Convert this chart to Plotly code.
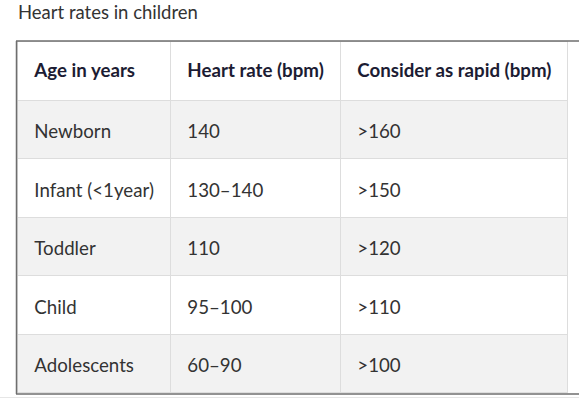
import plotly.graph_objects as go

title = "Heart rates in children"
headers = ["Age in years", "Heart rate (bpm)", "Consider as rapid (bpm)"]
ages = ["Newborn", "Infant (<1year)", "Toddler", "Child", "Adolescents"]
heart_rates = ["140", "130–140", "110", "95–100", "60–90"]
rapid = [">160", ">150", ">120", ">110", ">100"]

W, H = 579, 400
PAD = "\u2002"
# tiny invisible leading line so the (top-aligned) table text sits centred in each row
SPACER = '<span style="font-size:3px;color:rgba(0,0,0,0)">.</span>'


def fmt(vals, bold=False):
    out = []
    for v in vals:
        t = PAD + v
        if bold:
            t = "<b>" + t + "</b>"
        out.append(SPACER + '<br><span style="font-size:18.7px">' + t + "</span>")
    return out


row_fills = ["#f2f2f2" if i % 2 == 0 else "#ffffff" for i in range(len(ages))]

fig = go.Figure(go.Table(
    domain=dict(x=[17 / W, 567 / W], y=[1 - 393 / H, 1 - 41 / H]),
    columnwidth=[153, 170, 227],
    header=dict(
        values=fmt(headers, bold=True),
        fill_color="#ffffff",
        line=dict(color="#dddddd", width=1),
        font=dict(family="Lato", size=19.6, color="#1c1c33"),
        align="left",
        height=59,
    ),
    cells=dict(
        values=[fmt(ages), fmt(heart_rates), fmt(rapid)],
        fill_color=[row_fills] * 3,
        line=dict(color="#dddddd", width=1),
        font=dict(family="Lato", size=20.8, color="#333333"),
        align="left",
        height=58.5,
    ),
))

frame = "#6e6e6e"
fig.add_shape(type="line", xref="paper", yref="paper", x0=16 / W, x1=1, y0=1 - 41 / H, y1=1 - 41 / H,
              line=dict(color=frame, width=1.5))
fig.add_shape(type="line", xref="paper", yref="paper", x0=16.5 / W, x1=16.5 / W, y0=1 - 41 / H, y1=1 - 394 / H,
              line=dict(color=frame, width=1.5))
fig.add_shape(type="line", xref="paper", yref="paper", x0=16 / W, x1=1, y0=1 - 394 / H, y1=1 - 394 / H,
              line=dict(color=frame, width=1.5))
fig.add_shape(type="line", xref="paper", yref="paper", x0=0, x1=1, y0=1 - 397.5 / H, y1=1 - 397.5 / H,
              line=dict(color="#e6e6e6", width=1))

fig.add_annotation(text=title, xref="paper", yref="paper", x=16 / W, y=1 - 12 / H,
                   xanchor="left", yanchor="middle", showarrow=False,
                   font=dict(family="Lato", size=18.5, color="#333333"))

fig.update_layout(width=W, height=H, margin=dict(l=0, r=0, t=0, b=0),
                  paper_bgcolor="#ffffff", plot_bgcolor="#ffffff")
fig.write_html("out.html", config={"displayModeBar": False},
               post_script="document.body.style.margin='0px';document.body.style.overflow='hidden';")
